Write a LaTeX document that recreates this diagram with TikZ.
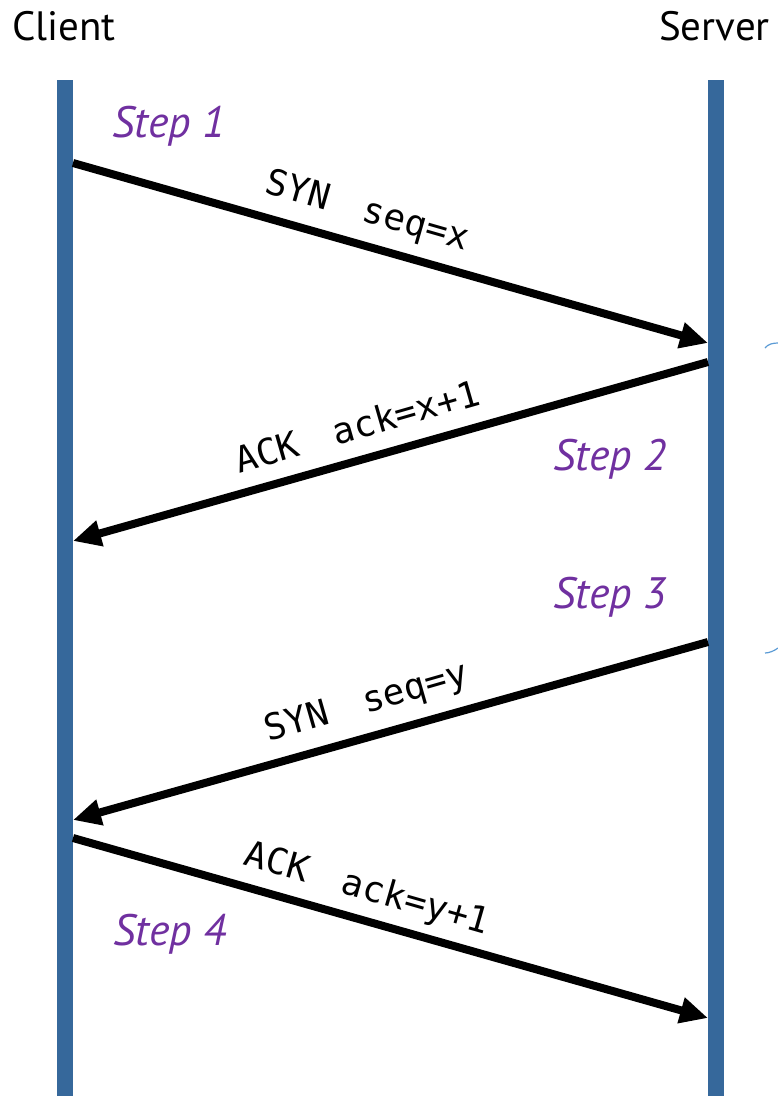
\documentclass[tikz,border=0pt]{standalone}
\usepackage{fontspec}
\setmainfont{PT Sans}
\newfontfamily\monofam{DejaVu Sans Mono}
\usetikzlibrary{arrows.meta}
\definecolor{lifeline}{RGB}{54,104,155}
\definecolor{steppurple}{RGB}{112,48,160}
\definecolor{braceblue}{RGB}{91,155,213}
\newcommand{\gap}{\ \hspace{0.4em}}
\tikzset{
  party/.style={font=\fontsize{41}{45}\selectfont, inner sep=0pt},
  stepnote/.style={font=\fontsize{44}{48}\selectfont\itshape, text=steppurple, inner sep=0pt},
  msglabel/.style={font=\monofam\fontsize{36}{40}\selectfont, inner sep=0pt},
  msg/.style={line width=8pt, -{Triangle[length=28pt,width=25pt]}},
}
\begin{document}
\begin{tikzpicture}[x=1pt,y=-1pt]
  \useasboundingbox (0,0) rectangle (778,1096);

  % names of the two parties
  \node[party, anchor=base west] (client) at (12,40) {Client};
  \node[party, anchor=base east] (server) at (770,40) {Server};

  % lifelines
  \fill[lifeline] (57,80) rectangle (73,1096);
  \fill[lifeline] (708,80) rectangle (724,1096);

  % message end points on the lifelines
  \coordinate (c1) at (73,163);
  \coordinate (s1) at (708,343);
  \coordinate (s2) at (708,362);
  \coordinate (c2) at (73,541);
  \coordinate (s3) at (708,642);
  \coordinate (c3) at (73,820);
  \coordinate (c4) at (73,838);
  \coordinate (s4) at (708,1018);

  % messages
  \draw[msg] (c1) -- (s1);
  \draw[msg] (s2) -- (c2);
  \draw[msg] (s3) -- (c3);
  \draw[msg] (c4) -- (s4);

  % message labels
  \node[msglabel, rotate=-16] (m1) at (367,212) {SYN\gap seq=x};
  \node[msglabel, rotate=16]  (m2) at (357,426) {ACK\gap ack=x+1};
  \node[msglabel, rotate=16]  (m3) at (367,703) {SYN\gap seq=y};
  \node[msglabel, rotate=-16] (m4) at (367,890) {ACK\gap ack=y+1};

  % step notes
  \node[stepnote, anchor=base west] (st1) at (112,137) {Step 1};
  \node[stepnote, anchor=base west] (st2) at (553,470) {Step 2};
  \node[stepnote, anchor=base west] (st3) at (553,608) {Step 3};
  \node[stepnote, anchor=base west] (st4) at (113,945) {Step 4};

  % brace fragments at the right edge
  \draw[braceblue, line width=1.2pt] (765,348) .. controls (768,344) and (773,343) .. (778,343);
  \draw[braceblue, line width=1.2pt] (765,653) .. controls (769,653) and (774,651) .. (778,648);
\end{tikzpicture}
\end{document}
